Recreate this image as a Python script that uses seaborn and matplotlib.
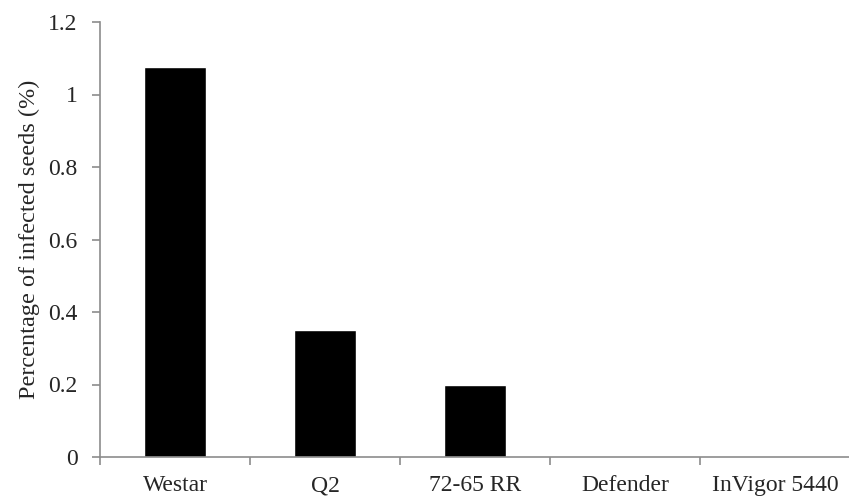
import matplotlib
matplotlib.use('Agg')
import matplotlib.pyplot as plt
import seaborn as sns
import pandas as pd
import numpy as np

# values
cultivars = ['Westar', 'Q2', '72-65 RR', 'Defender', 'InVigor 5440']
infected = [1.075, 0.35, 0.2, 0.0, 0.0]
yticks = [0, 0.2, 0.4, 0.6, 0.8, 1.0, 1.2]
ytick_labels = ['0', '0.2', '0.4', '0.6', '0.8', '1', '1.2']

sns.set_style('white')
plt.rcParams['font.family'] = ['Liberation Serif', 'DejaVu Serif']

df = pd.DataFrame({'Cultivar': cultivars, 'Infected': infected})

fig = plt.figure(figsize=(8.49, 4.99), dpi=100)
ax = fig.add_axes([100/849, 42/499, 750/849, 435/499])
sns.barplot(data=df, x='Cultivar', y='Infected', color='black',
            saturation=1, width=0.41, ax=ax)

ax.set_xlim(-0.5, 4.5)
ax.set_ylim(0, 1.2)

# axis styling, Excel-like
axis_grey = '#8c8c8c'
for s in ['top', 'right']:
    ax.spines[s].set_visible(False)
for s in ['left', 'bottom']:
    ax.spines[s].set_color(axis_grey)
    ax.spines[s].set_linewidth(1.2)

ax.set_yticks(yticks)
ax.set_yticklabels(ytick_labels)
ax.tick_params(axis='y', direction='out', length=6, width=1.2, color=axis_grey,
               pad=10, labelsize=17, left=True)

# tick marks sit between categories, labels at centres
ax.set_xticks(np.arange(len(cultivars)))
ax.set_xticklabels(cultivars)
ax.set_xticks(np.arange(len(cultivars) + 1) - 0.5, minor=True)
ax.tick_params(axis='x', which='major', length=0, pad=13, labelsize=17)
ax.tick_params(axis='x', which='minor', direction='out', length=6, width=1.2,
               color=axis_grey, bottom=True)

ax.set_xlabel('')
ax.set_ylabel('Percentage of infected seeds (%)', fontsize=17.5, labelpad=6)

fig.savefig('out.png', dpi=100)
